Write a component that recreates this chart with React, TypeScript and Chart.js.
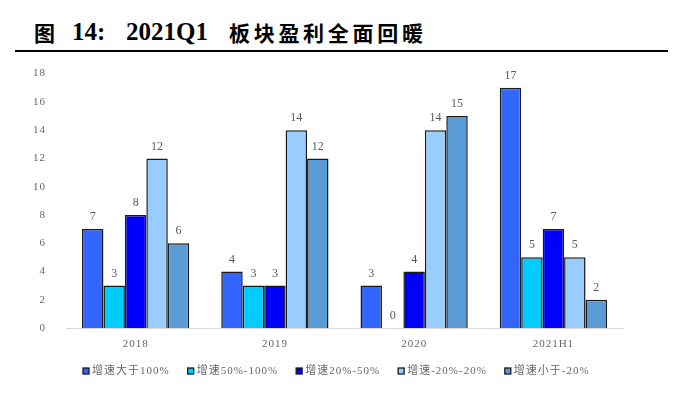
import React, { useEffect, useRef } from "react";
import { Chart, registerables } from "chart.js";

Chart.register(...registerables);

const categories = ["2018", "2019", "2020", "2021H1"];
const seriesNames = ["增速大于100%", "增速50%-100%", "增速20%-50%", "增速-20%-20%", "增速小于-20%"];
const gtHundred = [7, 4, 3, 17];
const fiftyToHundred = [3, 3, 0, 5];
const twentyToFifty = [8, 3, 4, 7];
const minusTwentyToTwenty = [12, 14, 14, 5];
const ltMinusTwenty = [6, 12, 15, 2];
const colors = ["#3366FF", "#00CCFF", "#0000FF", "#99CCFF", "#5B9BD5"];
const yTicks = [0, 2, 4, 6, 8, 10, 12, 14, 16, 18];

const FONT = "'Liberation Serif', 'Noto Sans CJK SC', serif";

const spacingPlugin = {
  id: "letterSpacing",
  beforeUpdate(chart: any) {
    chart.ctx.letterSpacing = "1px";
  },
  beforeDraw(chart: any) {
    chart.ctx.letterSpacing = "1px";
  },
};

const labelPlugin = {
  id: "valueLabels",
  afterDatasetsDraw(chart: any) {
    const ctx = chart.ctx;
    ctx.save();
    ctx.letterSpacing = "0px";
    ctx.font = `12px ${FONT}`;
    ctx.fillStyle = "#595959";
    ctx.textAlign = "center";
    ctx.textBaseline = "middle";
    chart.data.datasets.forEach((ds: any, i: number) => {
      const meta = chart.getDatasetMeta(i);
      meta.data.forEach((bar: any, j: number) => {
        ctx.fillText(String(ds.data[j]), bar.x, bar.y - 12);
      });
    });
    ctx.restore();
  },
};

const legendPlugin = {
  id: "bottomLegend",
  afterDraw(chart: any) {
    const ctx = chart.ctx;
    ctx.save();
    ctx.letterSpacing = "1px";
    ctx.font = `11px ${FONT}`;
    ctx.textAlign = "left";
    ctx.textBaseline = "middle";
    const y = chart.chartArea.bottom + 43;
    let x = chart.chartArea.left + 17;
    chart.data.datasets.forEach((ds: any) => {
      ctx.fillStyle = ds.backgroundColor;
      ctx.fillRect(x, y - 3, 6, 6);
      ctx.strokeStyle = "#1a1a1a";
      ctx.lineWidth = 1.3;
      ctx.strokeRect(x, y - 3, 6, 6);
      ctx.fillStyle = "#666666";
      ctx.fillText(ds.label, x + 9, y);
      x += 9 + ctx.measureText(ds.label).width + 18;
    });
    ctx.restore();
  },
};

export default function App() {
  const ref = useRef<HTMLCanvasElement>(null);
  useEffect(() => {
    document.body.style.margin = "0";
    const values = [gtHundred, fiftyToHundred, twentyToFifty, minusTwentyToTwenty, ltMinusTwenty];
    const chart = new Chart(ref.current!, {
      type: "bar",
      data: {
        labels: categories,
        datasets: seriesNames.map((name, i) => ({
          label: name,
          data: values[i],
          backgroundColor: colors[i],
          borderColor: "#1a1a1a",
          borderWidth: 1.5,
          barPercentage: 1,
          categoryPercentage: 0.77,
        })),
      },
      options: {
        animation: false,
        responsive: false,
        maintainAspectRatio: false,
        layout: { padding: { top: 1, right: 60, left: 0, bottom: 46 } },
        plugins: {
          tooltip: { enabled: false },
          legend: { display: false },
        },
        scales: {
          x: {
            grid: { display: false },
            border: { display: true, color: "#d9d9d9" },
            ticks: { color: "#666666", font: { family: FONT, size: 11 }, padding: 2 },
            afterFit: (axis: any) => {
              axis.height = 19;
            },
          },
          y: {
            min: 0,
            max: 18,
            afterBuildTicks: (axis: any) => {
              axis.ticks = yTicks.map((v) => ({ value: v }));
            },
            afterFit: (axis: any) => {
              axis.width = 66;
            },
            grid: { display: false },
            border: { display: false },
            ticks: { color: "#666666", font: { family: FONT, size: 11 }, padding: 12 },
          },
        },
      },
      plugins: [spacingPlugin, labelPlugin, legendPlugin],
    });
    return () => chart.destroy();
  }, []);
  const titleBase: React.CSSProperties = {
    position: "absolute",
    top: 17,
    fontWeight: "bold",
    color: "#000",
    whiteSpace: "nowrap",
    lineHeight: "30px",
  };
  return (
    <div style={{ position: "relative", width: 683, height: 393, background: "#fff" }}>
      <span style={{ ...titleBase, left: 34, fontFamily: "'Noto Sans CJK SC', serif", fontSize: 21 }}>图</span>
      <span style={{ ...titleBase, left: 72, fontFamily: FONT, fontSize: 25 }}>14:</span>
      <span style={{ ...titleBase, left: 126, fontFamily: FONT, fontSize: 25 }}>2021Q1</span>
      <span
        style={{
          ...titleBase,
          left: 229,
          fontFamily: "'Noto Sans CJK SC', serif",
          fontSize: 21,
          letterSpacing: 3.7,
        }}
      >
        板块盈利全面回暖
      </span>
      <div style={{ position: "absolute", left: 15, top: 50, width: 653, height: 2, background: "#000" }} />
      <canvas ref={ref} width={683} height={338} style={{ position: "absolute", left: 0, top: 55 }} />
    </div>
  );
}
